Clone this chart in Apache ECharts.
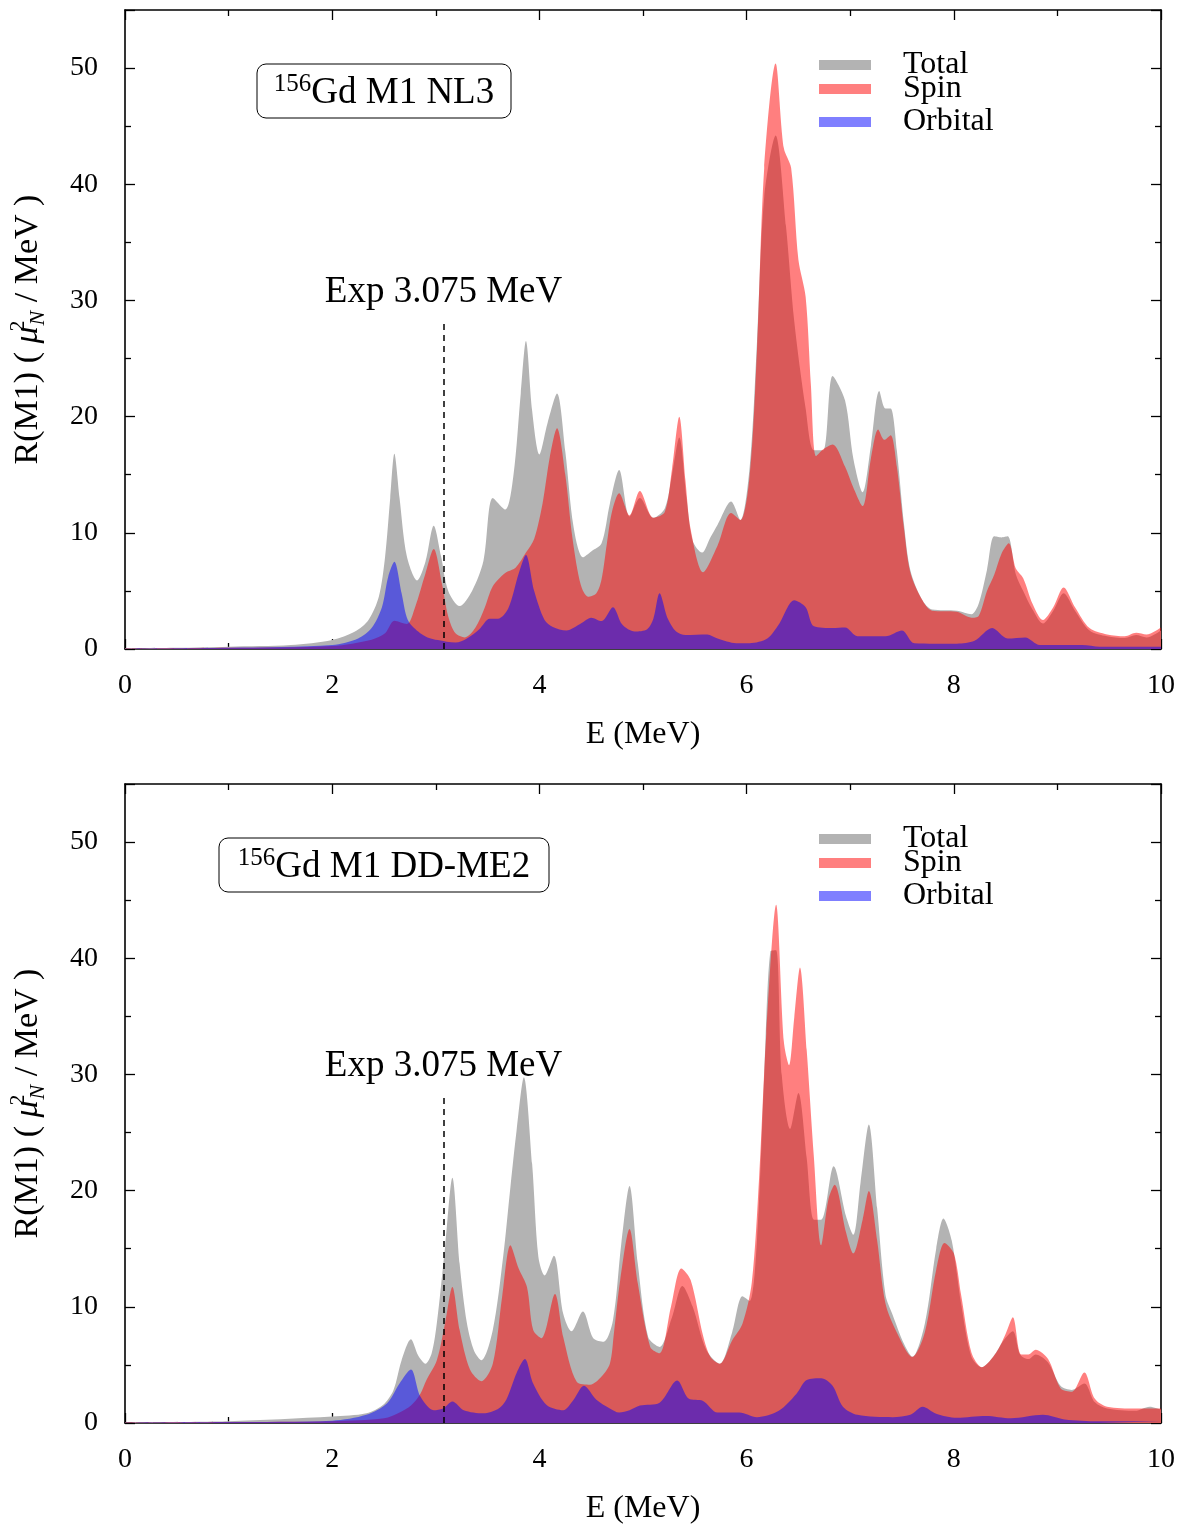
<!DOCTYPE html>
<html><head><meta charset="utf-8">
<script src="https://cdn.jsdelivr.net/npm/echarts@6/dist/echarts.min.js"></script>
<style>html,body{margin:0;padding:0;background:#fff}#c{width:1182px;height:1526px}</style>
</head><body><div id="c"></div>
<script>
// ---- data: [E (MeV), R(M1)] pairs ----
const nl3Total = [[0,0.05],[0.5,0.1],[1.0,0.2],[1.6,0.34],[2.0,0.77],[2.22,1.5],[2.35,2.5],[2.45,4.5],[2.51,7.9],[2.56,13.0],[2.6,16.8],[2.65,13.0],[2.72,8.0],[2.82,5.9],[2.9,7.5],[2.98,10.6],[3.05,8.0],[3.12,5.0],[3.23,3.7],[3.35,5.0],[3.46,7.6],[3.55,13.0],[3.67,12.0],[3.75,15.0],[3.82,22.0],[3.87,26.5],[3.93,20.5],[4.0,16.75],[4.08,19.5],[4.17,22.0],[4.25,17.0],[4.33,10.5],[4.42,7.9],[4.5,8.4],[4.6,9.1],[4.68,12.5],[4.77,15.4],[4.87,11.4],[4.97,13.0],[5.1,11.3],[5.21,12.1],[5.28,15.0],[5.35,18.2],[5.42,13.0],[5.48,9.3],[5.57,8.3],[5.65,9.6],[5.72,10.7],[5.85,12.7],[5.94,11.1],[6.03,15.7],[6.10,26.4],[6.17,38.9],[6.28,44.2],[6.38,36.4],[6.46,28.2],[6.57,20.7],[6.65,17.1],[6.74,17.1],[6.83,23.5],[6.95,21.4],[7.03,16.4],[7.12,13.5],[7.2,17.5],[7.28,22.2],[7.34,20.7],[7.39,20.7],[7.45,17.1],[7.52,10.7],[7.58,6.8],[7.69,4.3],[7.79,3.4],[8.03,3.3],[8.17,3.0],[8.24,3.9],[8.32,6.8],[8.39,9.7],[8.46,9.6],[8.52,9.7],[8.6,6.4],[8.67,5.0],[8.76,3.4],[8.86,2.2],[8.96,3.3],[9.06,4.8],[9.17,3.3],[9.31,1.6],[9.48,1.1],[9.65,0.95],[9.76,1.2],[9.86,1.0],[10,1.6]];
const nl3Spin = [[0,0.03],[1.0,0.1],[2.0,0.26],[2.38,0.8],[2.51,1.35],[2.6,2.43],[2.72,2.15],[2.8,3.6],[2.9,6.5],[2.98,8.6],[3.06,5.6],[3.12,2.8],[3.19,1.35],[3.28,1.0],[3.38,1.8],[3.47,3.5],[3.55,5.4],[3.67,6.55],[3.77,7.0],[3.87,8.3],[3.95,9.5],[4.03,12.5],[4.1,16.5],[4.17,19.0],[4.25,15.0],[4.32,9.5],[4.4,5.5],[4.47,4.5],[4.55,4.8],[4.6,6.0],[4.65,9.0],[4.7,11.8],[4.77,13.4],[4.87,11.5],[4.97,13.6],[5.1,11.3],[5.21,11.8],[5.28,15.5],[5.35,20.0],[5.41,14.5],[5.46,10.3],[5.58,6.6],[5.72,8.9],[5.85,11.7],[5.94,11.1],[6.03,15.0],[6.10,25.7],[6.17,41.4],[6.28,50.4],[6.36,43.1],[6.43,41.4],[6.50,33.5],[6.57,30.3],[6.62,22.8],[6.67,16.6],[6.74,17.2],[6.83,17.6],[6.95,15.7],[7.03,13.9],[7.12,12.3],[7.2,16.4],[7.27,18.9],[7.33,18.0],[7.39,18.4],[7.45,15.7],[7.52,10.3],[7.58,6.6],[7.69,4.3],[7.79,3.3],[8.03,3.2],[8.17,2.7],[8.24,2.85],[8.32,5.0],[8.39,6.4],[8.46,8.2],[8.53,9.1],[8.6,6.9],[8.67,6.1],[8.76,3.9],[8.86,2.5],[8.96,3.6],[9.06,5.3],[9.17,3.6],[9.31,1.8],[9.48,1.25],[9.65,1.1],[9.76,1.4],[9.86,1.25],[10,1.85]];
const nl3Orbital = [[0,0.02],[1.0,0.1],[2.0,0.34],[2.25,0.9],[2.38,1.8],[2.48,3.6],[2.54,6.2],[2.6,7.5],[2.67,4.8],[2.73,2.5],[2.83,1.5],[2.92,1.0],[3.02,0.77],[3.19,0.55],[3.3,0.9],[3.42,1.7],[3.52,2.6],[3.6,2.6],[3.7,3.5],[3.8,6.5],[3.87,8.1],[3.95,5.0],[4.05,2.5],[4.13,1.9],[4.26,1.6],[4.4,2.2],[4.5,2.7],[4.6,2.4],[4.71,3.6],[4.8,2.1],[4.92,1.5],[5.04,1.7],[5.1,2.6],[5.16,4.8],[5.24,2.6],[5.32,1.5],[5.41,1.2],[5.62,1.25],[5.72,0.9],[5.9,0.5],[6.03,0.5],[6.2,0.9],[6.31,2.1],[6.46,4.2],[6.57,3.6],[6.65,1.95],[6.83,1.8],[6.95,1.85],[7.07,1.1],[7.34,1.1],[7.5,1.6],[7.62,0.5],[8.03,0.45],[8.2,0.7],[8.37,1.8],[8.52,0.9],[8.69,1.0],[8.83,0.35],[9.24,0.35],[9.41,0.2],[10,0.2]];

const dd2Total = [[0,0.05],[1.0,0.15],[2.0,0.55],[2.33,0.83],[2.49,1.55],[2.59,2.8],[2.67,5.4],[2.76,7.2],[2.83,5.8],[2.9,5.1],[2.96,6.0],[3.01,8.6],[3.09,15.2],[3.16,21.1],[3.23,13.7],[3.3,8.6],[3.37,6.2],[3.44,5.4],[3.55,8.0],[3.65,14.3],[3.72,20.3],[3.78,25.2],[3.85,29.75],[3.93,22.3],[3.99,14.3],[4.05,12.7],[4.14,14.4],[4.23,9.4],[4.31,7.9],[4.42,9.6],[4.52,7.3],[4.62,7.0],[4.71,8.85],[4.79,15.4],[4.87,20.4],[4.95,13.7],[5.05,7.4],[5.16,6.55],[5.28,9.1],[5.38,11.8],[5.48,10.0],[5.61,6.3],[5.74,5.1],[5.86,7.8],[5.96,10.9],[6.03,10.5],[6.1,15.7],[6.17,29.9],[6.23,40.6],[6.285,40.7],[6.34,29.9],[6.42,25.3],[6.5,28.4],[6.58,22.8],[6.65,17.5],[6.72,17.5],[6.84,22.1],[6.96,17.8],[7.03,16.2],[7.1,20.7],[7.18,25.7],[7.26,18.5],[7.34,11.05],[7.41,9.3],[7.52,6.8],[7.6,5.7],[7.72,8.55],[7.83,15.0],[7.9,17.6],[7.98,15.7],[8.07,10.3],[8.17,5.7],[8.27,4.8],[8.38,5.7],[8.48,7.1],[8.57,7.9],[8.64,5.9],[8.72,5.5],[8.79,5.9],[8.91,5.2],[9.03,3.2],[9.14,2.85],[9.26,3.4],[9.36,1.8],[9.48,1.25],[9.75,1.05],[9.89,1.4],[10,1.15]];
const dd2Spin = [[0,0.03],[1.0,0.08],[2.0,0.15],[2.5,0.4],[2.65,0.9],[2.76,1.5],[2.85,2.5],[2.91,3.7],[3.01,5.4],[3.09,8.6],[3.16,11.7],[3.23,8.0],[3.33,4.6],[3.44,3.6],[3.55,5.1],[3.64,10.85],[3.72,15.3],[3.8,13.3],[3.88,11.7],[3.94,8.0],[4.02,7.3],[4.15,11.1],[4.23,7.4],[4.36,3.55],[4.49,3.3],[4.6,4.0],[4.68,5.1],[4.72,7.8],[4.78,12.3],[4.87,16.7],[4.95,12.0],[5.07,6.55],[5.16,6.0],[5.27,10.0],[5.37,13.3],[5.46,12.3],[5.58,7.5],[5.65,5.7],[5.74,5.1],[5.86,7.1],[5.96,8.55],[6.05,12.1],[6.12,21.0],[6.19,33.5],[6.285,44.6],[6.36,32.8],[6.41,30.8],[6.46,34.9],[6.515,39.2],[6.58,32.1],[6.65,22.8],[6.72,15.3],[6.79,19.25],[6.85,20.5],[6.96,16.4],[7.03,14.6],[7.12,17.5],[7.18,19.96],[7.26,15.7],[7.34,10.3],[7.45,7.8],[7.6,5.7],[7.72,7.8],[7.83,13.2],[7.91,15.5],[8.0,14.6],[8.07,11.05],[8.17,6.06],[8.27,4.8],[8.41,6.06],[8.5,7.66],[8.57,9.1],[8.65,5.9],[8.72,5.9],[8.79,6.3],[8.91,5.5],[9.03,3.0],[9.14,2.7],[9.26,4.35],[9.36,2.1],[9.48,1.4],[9.75,1.25],[10,1.25]];
const dd2Orbital = [[0,0.02],[1.0,0.08],[2.0,0.2],[2.33,0.7],[2.53,1.7],[2.65,3.4],[2.76,4.6],[2.85,2.3],[2.98,1.1],[3.07,1.25],[3.16,1.85],[3.27,1.1],[3.46,0.83],[3.6,1.2],[3.68,2.0],[3.78,4.3],[3.86,5.5],[3.94,3.4],[4.07,1.55],[4.23,1.1],[4.33,2.0],[4.43,3.2],[4.55,2.0],[4.68,1.25],[4.77,0.9],[4.87,1.1],[4.97,1.5],[5.16,1.75],[5.33,3.65],[5.44,2.1],[5.58,1.9],[5.72,0.9],[5.93,0.9],[6.1,0.5],[6.31,1.05],[6.48,2.5],[6.58,3.7],[6.72,3.85],[6.83,3.2],[6.93,1.4],[7.07,0.7],[7.41,0.5],[7.58,0.7],[7.7,1.4],[7.83,0.8],[8.03,0.45],[8.31,0.6],[8.55,0.4],[8.86,0.7],[9.07,0.3],[9.4,0.15],[10,0.15]];

const seriesNames = ['Total', 'Spin', 'Orbital'];
const panelTitles = ['NL3', 'DD-ME2'];
const expEnergy = [3.075];
const expLabel = 'Exp 3.075 MeV';
const xRange = [0, 10];
const yRange = [0, 55];

// ---- styling ----
const FONT = "'Liberation Serif', 'Times New Roman', serif";
const colors = ['#b3b3b3', 'rgba(255,0,0,0.5)', 'rgba(0,0,255,0.5)'];
const grids = [
  {left: 125, right: 21, top: 10, height: 639, containLabel: false, outerBoundsMode: 'none'},
  {left: 125, right: 21, top: 784, height: 639, containLabel: false, outerBoundsMode: 'none'}
];
const expTop = 28.4;

const chart = echarts.init(document.getElementById('c'), null, {renderer: 'canvas'});

const xAxes = [], yAxes = [], series = [], legends = [], graphics = [];
const panels = [[nl3Total, nl3Spin, nl3Orbital], [dd2Total, dd2Spin, dd2Orbital]];

panels.forEach((pd, p) => {
  const tickBase = {show: true, inside: true, length: 10, lineStyle: {color: '#000', width: 1.3}};
  const minor = {show: true, splitNumber: 2, length: 6, lineStyle: {color: '#000', width: 1.3}};
  const line = {show: true, onZero: false, lineStyle: {color: '#000', width: 1.6}};
  xAxes.push({
    type: 'value', gridIndex: p, min: xRange[0], max: xRange[1], interval: 2, position: 'bottom',
    axisLine: line, axisTick: tickBase, minorTick: minor, splitLine: {show: false},
    axisLabel: {color: '#000', fontFamily: FONT, fontSize: 28, margin: 23},
    name: 'E (MeV)', nameLocation: 'middle', nameGap: 70,
    nameTextStyle: {color: '#000', fontFamily: FONT, fontSize: 32}
  });
  xAxes.push({
    type: 'value', gridIndex: p, min: xRange[0], max: xRange[1], interval: 2, position: 'top',
    axisLine: line, axisTick: tickBase, minorTick: minor, splitLine: {show: false},
    axisLabel: {show: false}
  });
  yAxes.push({
    type: 'value', gridIndex: p, min: yRange[0], max: yRange[1], interval: 10, position: 'left',
    axisLine: line, axisTick: tickBase, minorTick: minor, splitLine: {show: false},
    axisLabel: {color: '#000', fontFamily: FONT, fontSize: 28, margin: 27,
      formatter: v => (v > 50 ? '' : String(v))},
    name: '{a|R(M1) ( }{mu|μ}{sup|2}{sub|N}{a| / MeV )}', nameLocation: 'middle', nameGap: 76,
    nameTextStyle: {color: '#000', fontFamily: FONT, fontSize: 34,
      rich: {
        a: {fontFamily: FONT, fontSize: 34, color: '#000', lineHeight: 42},
        mu: {fontFamily: FONT, fontSize: 34, fontStyle: 'italic', color: '#000', lineHeight: 42},
        sup: {fontFamily: FONT, fontSize: 22, color: '#000', verticalAlign: 'top', lineHeight: 30, width: 1},
        sub: {fontFamily: FONT, fontSize: 22, fontStyle: 'italic', color: '#000', verticalAlign: 'bottom', lineHeight: 22}
      }}
  });
  yAxes.push({
    type: 'value', gridIndex: p, min: yRange[0], max: yRange[1], interval: 10, position: 'right',
    axisLine: line, axisTick: tickBase, minorTick: minor, splitLine: {show: false},
    axisLabel: {show: false}
  });

  pd.forEach((data, k) => {
    const s = {
      type: 'line', name: seriesNames[k], data: data,
      xAxisIndex: p * 2, yAxisIndex: p * 2,
      symbol: 'none', showSymbol: false, smooth: 0.3,
      lineStyle: {width: 0, color: colors[k]},
      itemStyle: {color: colors[k]},
      areaStyle: {color: colors[k], opacity: 1},
      animation: false, silent: true, z: 2 + k
    };
    if (k === 0) {
      s.markLine = {
        silent: true, symbol: ['none', 'none'], animation: false, z: 10,
        lineStyle: {color: '#000', type: [6, 5], width: 1.5},
        label: {show: true, position: 'end', distance: 8, formatter: expLabel,
          color: '#000', fontFamily: FONT, fontSize: 37},
        data: [[{coord: [expEnergy[0], 0]}, {coord: [expEnergy[0], expTop]}]]
      };
    }
    series.push(s);
  });

  const off = p === 0 ? 0 : 774;
  const legendTops = [49, 73, 106];
  seriesNames.forEach((n, k) => {
    legends.push({
      data: [n], left: 819, top: legendTops[k] + off, orient: 'vertical', padding: 0,
      icon: 'rect', itemWidth: 52, itemHeight: 10, selectedMode: false,
      textStyle: {color: '#000', fontFamily: FONT, fontSize: 32, lineHeight: 32, padding: [0, 0, 0, 27]}
    });
  });

  const box = p === 0 ? {x: 257, y: 64, w: 254, h: 54} : {x: 219, y: 838, w: 330, h: 54};
  graphics.push({
    type: 'rect', shape: {x: box.x, y: box.y, width: box.w, height: box.h, r: 9},
    style: {fill: '#fff', stroke: '#000', lineWidth: 1}, z: 20
  });
  graphics.push({
    type: 'text', x: box.x + box.w / 2, y: box.y + box.h / 2 + 2, z: 21,
    style: {
      text: '{s|156}{m|Gd M1 ' + panelTitles[p] + '}',
      align: 'center', verticalAlign: 'middle',
      rich: {
        s: {fontFamily: FONT, fontSize: 25, fill: '#000', verticalAlign: 'top', lineHeight: 26},
        m: {fontFamily: FONT, fontSize: 37, fill: '#000', lineHeight: 42}
      }
    }
  });
});

chart.setOption({
  backgroundColor: '#fff',
  animation: false,
  grid: grids,
  xAxis: xAxes,
  yAxis: yAxes,
  legend: legends,
  series: series,
  graphic: graphics
});
</script></body></html>
